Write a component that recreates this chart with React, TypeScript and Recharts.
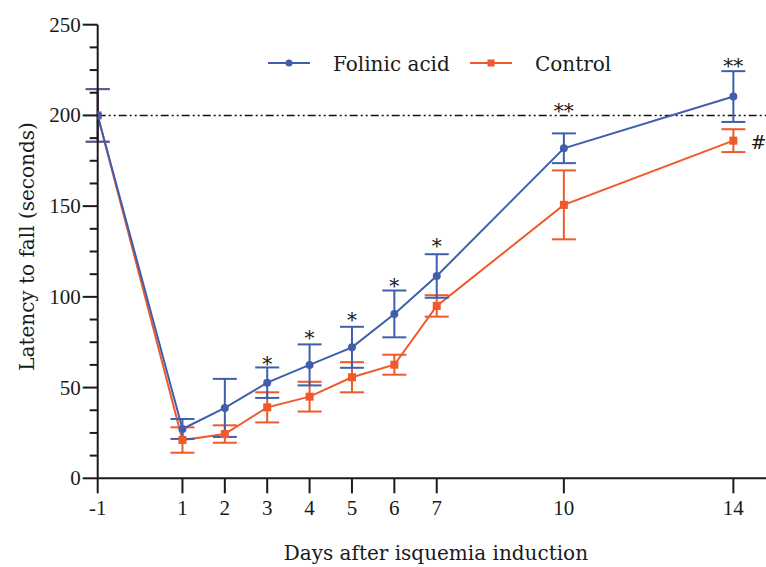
import React from "react";
import {
  ComposedChart,
  Line,
  XAxis,
  YAxis,
  ErrorBar,
  ReferenceLine,
  LabelList,
} from "recharts";

const days = [-1, 1, 2, 3, 4, 5, 6, 7, 10, 14];
const folinic = [200, 27.2, 38.8, 52.7, 62.5, 72.2, 90.6, 111.5, 181.9, 210.4];
const folinicErr = [14.5, 5.5, 16, 8.4, 11.3, 11.3, 12.9, 12, 8.2, 14];
const control = [200, 21.1, 24.4, 39.1, 45, 55.7, 62.6, 95, 150.7, 186.1];
const controlErr = [14.5, 7, 4.8, 8.3, 8.2, 8.3, 5.5, 5.9, 19, 6.3];
const significance = ["", "", "", "*", "*", "*", "*", "*", "**", "**"];
const significanceAt = [null, null, null, 66, 80, 90, 109, 131, 205, 230];
const controlMark = ["", "", "", "", "", "", "", "", "", "#"];
const xTicks = [-1, 1, 2, 3, 4, 5, 6, 7, 10, 14];
const yTicks = [0, 12.5, 25, 37.5, 50, 62.5, 75, 87.5, 100, 112.5, 125, 137.5, 150, 162.5, 175, 187.5, 200, 212.5, 225, 237.5, 250];

const BLUE = "#3F5FAE";
const ORANGE = "#F0592A";
const INK = "#1a1a1a";
const FONT = "'DejaVu Serif', 'Liberation Serif', serif";
const NUM_FONT = "'Liberation Serif', 'DejaVu Serif', serif";

const data = days.map((d, i) => ({
  day: d,
  folinic: folinic[i],
  folinicErr: folinicErr[i],
  control: control[i],
  controlErr: controlErr[i],
  sig: significance[i],
  sigAt: significanceAt[i],
  mark: controlMark[i],
}));

const YTick = (props: any) => {
  const { x, y, payload } = props;
  const major = payload.value % 50 === 0;
  return (
    <g>
      <line x1={x - (major ? 15 : 8)} x2={x} y1={y} y2={y} stroke={INK} strokeWidth={2} />
      {major && (
        <text x={x - 17} y={y + 7} textAnchor="end" fontFamily={NUM_FONT} fontSize={21} fill={INK}>
          {payload.value}
        </text>
      )}
    </g>
  );
};

const XTick = (props: any) => {
  const { x, y, payload } = props;
  return (
    <g>
      <line x1={x} x2={x} y1={y} y2={y + 15} stroke={INK} strokeWidth={2} />
      <text x={x} y={y + 37} textAnchor="middle" fontFamily={NUM_FONT} fontSize={21} fill={INK}>
        {payload.value}
      </text>
    </g>
  );
};

const SigLabel = (props: any) => {
  const { x, y, value } = props;
  if (!value) return null;
  return (
    <text x={x} y={y + 12} textAnchor="middle" fontFamily={FONT} fontSize={20} fill={INK}>
      {value}
    </text>
  );
};

const MarkLabel = (props: any) => {
  const { x, y, value } = props;
  if (!value) return null;
  return (
    <text x={x + 25} y={y + 8} textAnchor="middle" fontFamily={FONT} fontSize={19} fill={INK}>
      {value}
    </text>
  );
};

const LegendOverlay = () => (
  <svg width={766} height={90} style={{ position: "absolute", left: 0, top: 0, pointerEvents: "none" }}>
    <line x1={268} x2={310} y1={63} y2={63} stroke={BLUE} strokeWidth={2} />
    <circle cx={289} cy={63} r={3.5} fill={BLUE} />
    <text x={333} y={71} fontFamily={FONT} fontSize={20} fill={INK}>Folinic acid</text>
    <line x1={470} x2={512} y1={63} y2={63} stroke={ORANGE} strokeWidth={2} />
    <rect x={487.5} y={59.5} width={7} height={7} fill={ORANGE} />
    <text x={535} y={71} fontFamily={FONT} fontSize={20} fill={INK}>Control</text>
  </svg>
);

const YLabel = (props: any) => {
  const vb = props.viewBox || { x: 0, y: 24.7, width: 97.7, height: 453.6 };
  const cx = vb.x + 27;
  const cy = vb.y + vb.height / 2 - 5;
  return (
    <text
      x={cx}
      y={cy}
      transform={`rotate(-90 ${cx} ${cy})`}
      textAnchor="middle"
      dominantBaseline="central"
      fontFamily={FONT}
      fontSize={20}
      fill={INK}
    >
      Latency to fall (seconds)
    </text>
  );
};

const XLabel = (props: any) => {
  const vb = props.viewBox || { x: 97.7, y: 478.3, width: 668.3, height: 60 };
  return (
    <text x={vb.x + vb.width / 2 + 4} y={560} textAnchor="middle" fontFamily={FONT} fontSize={20} fill={INK}>
      Days after isquemia induction
    </text>
  );
};

export default function App() {
  return (
    <div style={{ position: "absolute", left: 0, top: 0, width: 766, height: 567, background: "#fff" }}>
      <ComposedChart
        width={766}
        height={567}
        data={data}
        margin={{ top: 24.7, right: 0, bottom: 28.7, left: 0 }}
      >
        <XAxis
          dataKey="day"
          type="number"
          domain={[-1, 14.77]}
          ticks={xTicks}
          allowDataOverflow
          height={60}
          stroke={INK}
          axisLine={{ stroke: INK, strokeWidth: 2 }}
          tickLine={false}
          tickSize={0}
          tickMargin={0}
          tick={<XTick />}
          interval={0}
          label={{ content: <XLabel /> } as any}
        />
        <YAxis
          type="number"
          domain={[0, 250]}
          ticks={yTicks}
          width={97.7}
          axisLine={{ stroke: INK, strokeWidth: 2 }}
          tickLine={false}
          tickSize={0}
          tickMargin={0}
          tick={<YTick />}
          interval={0}
          label={{ content: <YLabel /> } as any}
        />
        <ReferenceLine y={200} stroke="#111" strokeWidth={1.5} strokeDasharray="8 3 2 3 2 3" />
        <Line
          dataKey="control"
          name="Control"
          stroke={ORANGE}
          strokeWidth={2}
          isAnimationActive={false}
          dot={(p: any) => (
            <rect key={`c${p.index}`} x={p.cx - 4} y={p.cy - 4} width={8} height={8} fill={ORANGE} />
          )}
          activeDot={false}
        >
          <ErrorBar dataKey="controlErr" width={12} stroke={ORANGE} strokeWidth={2} isAnimationActive={false} />
          <LabelList dataKey="mark" content={<MarkLabel />} />
        </Line>
        <Line
          dataKey="folinic"
          name="Folinic acid"
          stroke={BLUE}
          strokeWidth={2}
          isAnimationActive={false}
          dot={{ r: 4, fill: BLUE, stroke: BLUE, strokeWidth: 0 }}
          activeDot={false}
        >
          <ErrorBar dataKey="folinicErr" width={12} stroke={BLUE} strokeWidth={2} isAnimationActive={false} />
        </Line>
        <Line
          dataKey="sigAt"
          stroke="none"
          dot={false}
          activeDot={false}
          legendType="none"
          isAnimationActive={false}
        >
          <LabelList dataKey="sig" content={<SigLabel />} />
        </Line>
      </ComposedChart>
      <LegendOverlay />
    </div>
  );
}
